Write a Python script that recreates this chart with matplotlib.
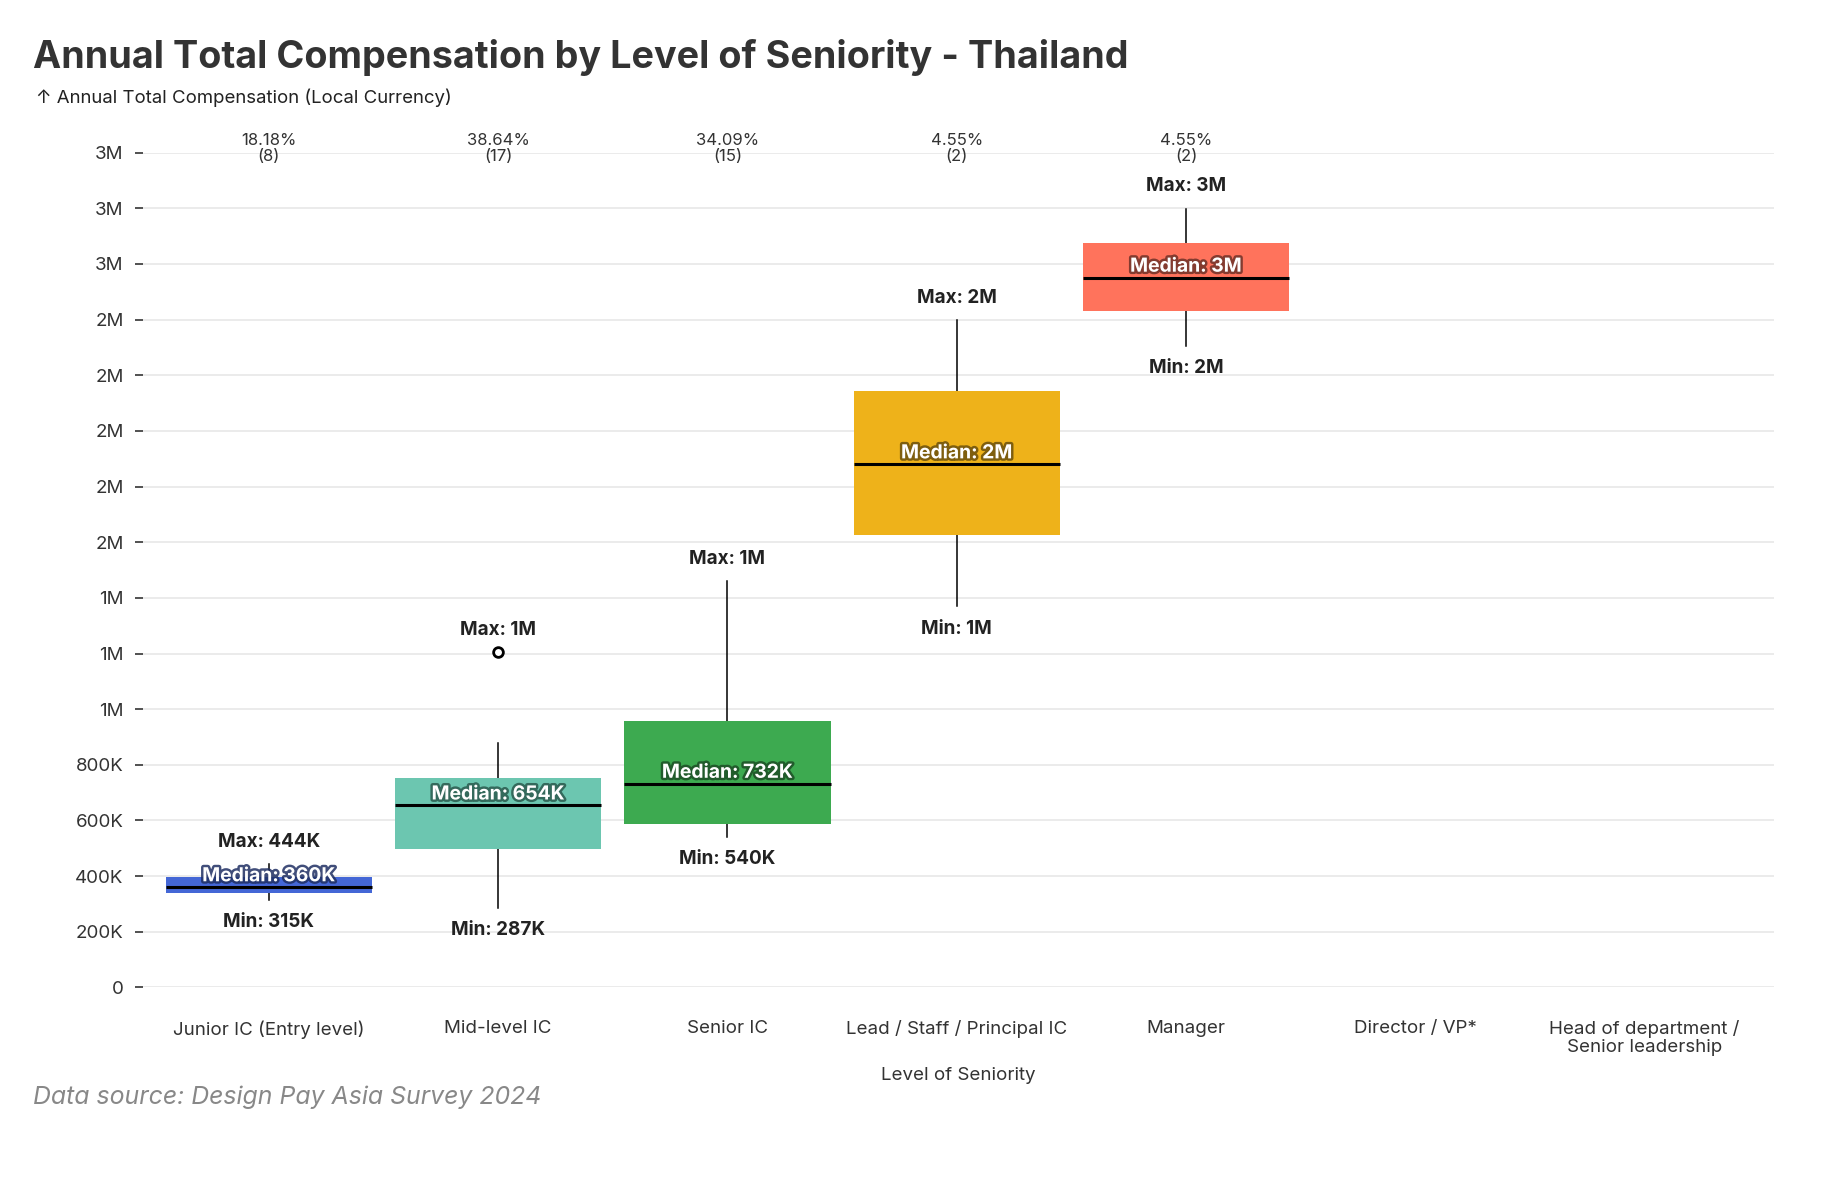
import matplotlib
matplotlib.use("Agg")
import matplotlib.pyplot as plt
import matplotlib.patheffects as pe
from matplotlib.ticker import FuncFormatter, MultipleLocator

plt.rcParams['font.family'] = ['Inter', 'DejaVu Sans']

categories = ["Junior IC (Entry level)", "Mid-level IC", "Senior IC",
              "Lead / Staff / Principal IC", "Manager", "Director / VP*",
              "Head of department /\nSenior leadership"]
# stats for the first five categories (others have no data)
q1 = [339000, 496000, 586000, 1626000, 2430000]
median = [360000, 654000, 732000, 1880000, 2551000]
q3 = [395000, 751000, 957000, 2143000, 2677000]
whisker_low = [315000, 287000, 540000, 1369000, 2307000]
whisker_high = [444000, 880000, 1461000, 2399000, 2799000]
outliers = [[], [1206000], [], [], []]
median_labels = ["360K", "654K", "732K", "2M", "3M"]
min_labels = ["315K", "287K", "540K", "1M", "2M"]
max_labels = ["444K", "1M", "1M", "2M", "3M"]
pct_labels = ["18.18%", "38.64%", "34.09%", "4.55%", "4.55%"]
counts = [8, 17, 15, 2, 2]
colors = ["#4467D6", "#6CC6B0", "#3DAA50", "#EEB21A", "#FF735C"]
stroke_colors = ["#1f2f63", "#2a5a4e", "#1c4d25", "#6b4f0c", "#6e3128"]

fig = plt.figure(figsize=(18.32, 11.78), dpi=100)
ax = fig.add_axes([143 / 1832, 1 - 987.4 / 1178, (1774 - 143) / 1832, (987.4 - 152.7) / 1178])

stats = []
for i in range(len(q1)):
    stats.append(dict(med=median[i], q1=q1[i], q3=q3[i], whislo=whisker_low[i],
                      whishi=whisker_high[i], fliers=outliers[i]))

bp = ax.bxp(stats, positions=list(range(len(q1))), widths=0.9, patch_artist=True,
            showcaps=False,
            boxprops=dict(linewidth=0),
            medianprops=dict(color="black", linewidth=2.2),
            whiskerprops=dict(color="black", linewidth=1.1),
            flierprops=dict(marker="o", markersize=7, markerfacecolor="white",
                            markeredgecolor="black", markeredgewidth=2),
            manage_ticks=False, zorder=3)
for patch, c in zip(bp["boxes"], colors):
    patch.set_facecolor(c)
    patch.set_edgecolor(c)
    patch.set_zorder(3)
for w in bp["whiskers"]:
    w.set_zorder(2)

for i in range(len(q1)):
    top = max([whisker_high[i]] + outliers[i])
    ax.annotate(f"Max: {max_labels[i]}", (i, top), xytext=(0, 16), textcoords="offset points",
                ha="center", va="center", fontsize=13.6, fontweight="bold", color="#222222", zorder=5)
    ax.annotate(f"Min: {min_labels[i]}", (i, whisker_low[i]), xytext=(0, -16), textcoords="offset points",
                ha="center", va="center", fontsize=13.6, fontweight="bold", color="#222222", zorder=5)
    t = ax.annotate(f"Median: {median_labels[i]}", (i, median[i]), xytext=(0, 7.9), textcoords="offset points",
                    ha="center", va="center", fontsize=13.9, fontweight="bold", color="white", zorder=6)
    t.set_path_effects([pe.withStroke(linewidth=3.5, foreground=stroke_colors[i], alpha=0.85)])
    ax.annotate(f"{pct_labels[i]}\n({counts[i]})", (i, 3.0e6), xytext=(0, 3), textcoords="offset points",
                ha="center", va="center", fontsize=12, color="#333333", linespacing=1.05,
                annotation_clip=False, zorder=5)

ax.set_xlim(-0.549, 6.564)
ax.set_ylim(0, 3.0e6)
ax.yaxis.set_major_locator(MultipleLocator(200000))


def fmt(v, pos):
    if v == 0:
        return "0"
    if v >= 1e6:
        return f"{int(v / 1e6 + 0.5)}M"
    return f"{v / 1e3:.0f}K"


ax.yaxis.set_major_formatter(FuncFormatter(fmt))
ax.set_xticks(range(len(categories)))
ax.set_xticklabels(categories, fontsize=13.5, color="#333333", linespacing=1.05)
ax.tick_params(axis="x", length=0, pad=23.5)
ax.tick_params(axis="y", length=6, width=1.2, color="#333333", pad=8, labelsize=13.5, labelcolor="#333333")
ax.grid(axis="y", color="#e9e9e9", linewidth=1.3, zorder=0)
ax.set_axisbelow(True)
for s in ax.spines.values():
    s.set_visible(False)

ax.set_xlabel("Level of Seniority", fontsize=13.5, color="#333333", labelpad=8)

fig.text(33 / 1832, 1 - 57 / 1178, "Annual Total Compensation by Level of Seniority - Thailand",
         fontsize=27.2, fontweight="bold", color="#333333", ha="left", va="center")
fig.text(36 / 1832, 1 - 98 / 1178, "\u2191 Annual Total Compensation (Local Currency)",
         fontsize=13.4, color="#222222", ha="left", va="center",
         family=['Inter', 'DejaVu Sans'])
fig.text(33 / 1832, 1 - 1097 / 1178, "Data source: Design Pay Asia Survey 2024",
         fontsize=17.9, style="italic", color="#888888", ha="left", va="center")

fig.savefig("out.png", dpi=100)
